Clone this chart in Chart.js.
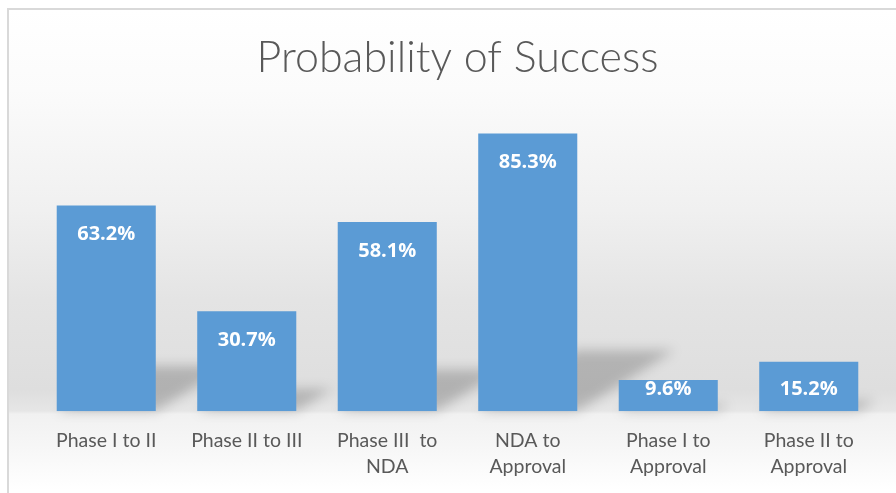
<!DOCTYPE html>
<html>
<head>
<meta charset="utf-8">
<script src="https://cdn.jsdelivr.net/npm/chart.js@4/dist/chart.umd.min.js"></script>
<style>
  html, body { margin: 0; padding: 0; background: #fff; }
  #wrap {
    position: absolute; left: 7px; top: 8px; width: 889px; height: 485px;
    border-left: 2px solid #d9d9d9; border-top: 2px solid #d9d9d9;
    box-sizing: border-box;
    background: linear-gradient(to bottom, #ffffff 0px, #fbfbfb 80px, #f0f0f0 200px, #e4e4e4 290px, #dedede 380px, #e6e6e6 401px, #f1f1f1 404px, #f7f7f7 440px, #ffffff 480px);
  }
  canvas { position: absolute; left: 0; top: 0; }
</style>
</head>
<body>
<div id="wrap"></div>
<canvas id="chart" width="896" height="493"></canvas>
<script>
const categories = [
  'Phase I to II',
  'Phase II to III',
  ['Phase III  to', 'NDA'],
  ['NDA to', 'Approval'],
  ['Phase I to', 'Approval'],
  ['Phase II to', 'Approval'],
];
const successRates = [63.2, 30.7, 58.1, 85.3, 9.6, 15.2];
const titleText = 'Probability of Success';

// soft perspective shadow falling up and to the right of each bar
const barShadows = {
  id: 'barShadows',
  beforeDatasetsDraw(chart) {
    const ctx = chart.ctx;
    const meta = chart.getDatasetMeta(0);
    ctx.save();
    ctx.filter = 'blur(6px)';
    ctx.fillStyle = 'rgba(0,0,0,0.2)';
    meta.data.forEach((bar) => {
      const h = bar.base - bar.y;
      const half = bar.width / 2;
      const dx = h * 0.35;
      const dy = h * 0.22;
      ctx.beginPath();
      ctx.moveTo(bar.x - half, bar.base);
      ctx.lineTo(bar.x + half, bar.base);
      ctx.lineTo(bar.x + half + dx, bar.base - dy);
      ctx.lineTo(bar.x - half + dx, bar.base - dy);
      ctx.closePath();
      ctx.fill();
    });
    ctx.restore();
  },
};

// white value labels inside the top of the bars
const valueLabels = {
  id: 'valueLabels',
  afterDatasetsDraw(chart) {
    const ctx = chart.ctx;
    const meta = chart.getDatasetMeta(0);
    ctx.save();
    ctx.font = 'bold 20px "Open Sans"';
    ctx.fillStyle = '#ffffff';
    ctx.textAlign = 'center';
    ctx.textBaseline = 'middle';
    meta.data.forEach((bar, i) => {
      const y = Math.min(bar.y + 29, bar.base - 22);
      ctx.fillText(successRates[i].toFixed(1) + '%', bar.x, y);
    });
    ctx.restore();
  },
};

new Chart(document.getElementById('chart'), {
  type: 'bar',
  data: {
    labels: categories,
    datasets: [
      {
        data: successRates,
        backgroundColor: '#5b9bd5',
        borderWidth: 0,
        categoryPercentage: 1,
        barPercentage: 0.705,
      },
    ],
  },
  options: {
    responsive: false,
    animation: false,
    layout: { padding: { left: 36, right: 17, top: 0, bottom: -3 } },
    plugins: {
      legend: { display: false },
      tooltip: { enabled: false },
      title: {
        display: true,
        text: titleText,
        color: '#595959',
        font: { family: 'Lato', size: 43, weight: '300', lineHeight: 1.2 },
        padding: { top: 32, bottom: 2 },
      },
    },
    scales: {
      x: {
        grid: { display: false, drawTicks: false },
        border: { display: false },
        ticks: {
          color: '#595959',
          font: { family: 'Lato', size: 19.5, lineHeight: 1.35 },
          padding: 16,
          autoSkip: false,
          maxRotation: 0,
        },
      },
      y: {
        display: false,
        min: 0,
        max: 100,
      },
    },
  },
  plugins: [barShadows, valueLabels],
});
</script>
</body>
</html>
